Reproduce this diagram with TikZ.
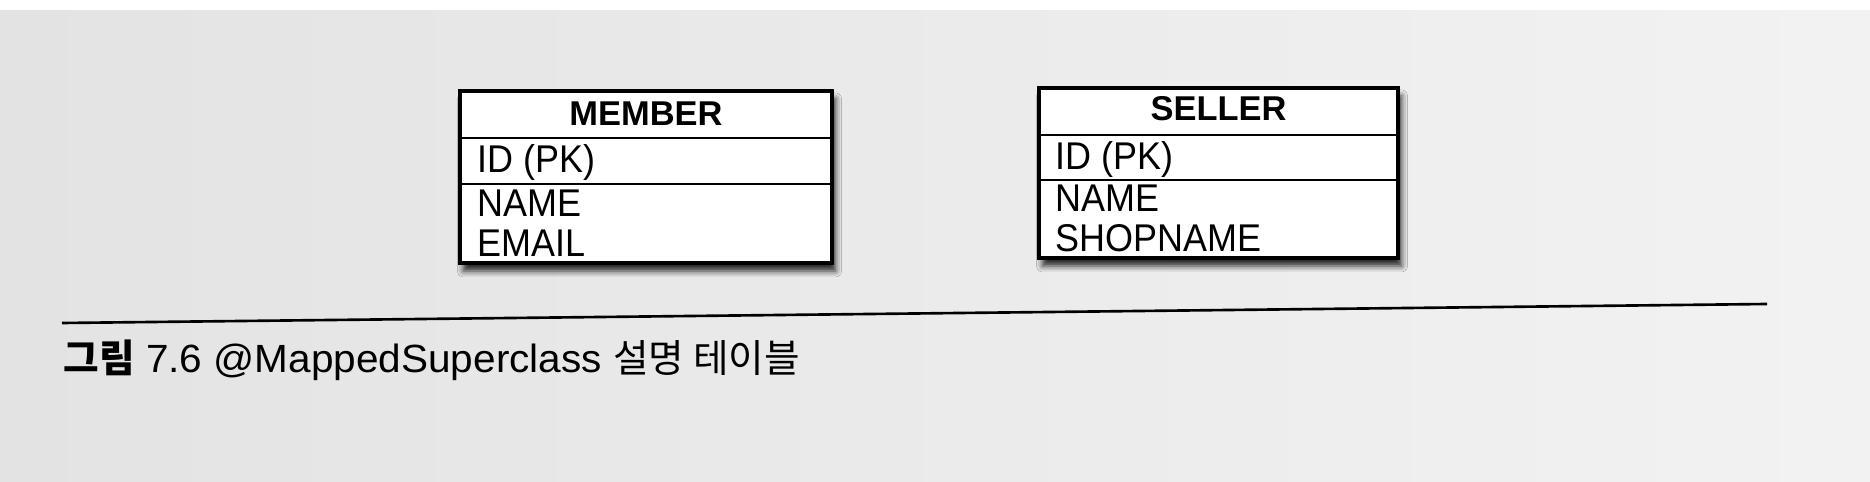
\documentclass[tikz,border=0pt]{standalone}
\usepackage{fontspec}
\setmainfont{Liberation Sans}
\newfontfamily\tabfont[FakeStretch=0.93]{Liberation Sans}
\newfontfamily\capfont[FakeStretch=1.03]{Liberation Sans}
\newfontfamily\krfont{Noto Sans CJK KR}
\usetikzlibrary{shadows.blur}

\tikzset{
	tablebox/.style={draw, line width=0.9pt, fill=white, inner sep=0, outer sep=0, anchor=north west,
		blur shadow={shadow xshift=0.35mm, shadow yshift=-0.8mm, shadow blur radius=0.6mm, shadow opacity=85}},
	rowline/.style={line width=0.8pt},
	headtext/.style={font=\bfseries\fontsize{9.8}{11}\selectfont, inner sep=0, anchor=base},
	fieldtext/.style={font=\tabfont\fontsize{11}{13}\selectfont, inner sep=0, anchor=base west},
}

\begin{document}
\begin{tikzpicture}
	\useasboundingbox (0,0) rectangle (18.70,4.82);
	%page
	\shade[left color=black!11, right color=black!5] (0,0) rectangle (18.70,4.72);
	\fill[white] (0,4.72) rectangle (18.70,4.82);
	
	%member table
	\node[tablebox, minimum width=3.72cm, minimum height=1.72cm] (member) at (4.60,3.91) {};
	\draw[rowline] (4.60,3.44) -- (8.32,3.44);	%header | id
	\draw[rowline] (4.60,2.98) -- (8.32,2.98);	%id | fields
	\node[headtext] (memberhead) at (6.46,3.56) {MEMBER};
	\node[fieldtext] (memberid) at (4.77,3.09) {ID (PK)};
	\node[fieldtext] (membername) at (4.77,2.65) {NAME};
	\node[fieldtext] (memberemail) at (4.77,2.25) {EMAIL};
	
	%seller table
	\node[tablebox, minimum width=3.59cm, minimum height=1.70cm] (seller) at (10.39,3.94) {};
	\draw[rowline] (10.39,3.47) -- (13.98,3.47);	%header | id
	\draw[rowline] (10.39,3.02) -- (13.98,3.02);	%id | fields
	\node[headtext] (sellerhead) at (12.185,3.61) {SELLER};
	\node[fieldtext] (sellerid) at (10.55,3.12) {ID (PK)};
	\node[fieldtext] (sellername) at (10.55,2.70) {NAME};
	\node[fieldtext] (sellershop) at (10.55,2.30) {SHOPNAME};
	
	%caption
	\coordinate (ruleL) at (0.62,1.59);
	\coordinate (ruleR) at (17.67,1.78);
	\draw[line width=0.75pt] (ruleL) -- (ruleR);
	\node[inner sep=0, anchor=base west, font=\capfont\fontsize{11.2}{13}\selectfont] (caption) at (0.63,1.09)
		{{\krfont\bfseries\fontsize{11}{13}\selectfont 그림} 7.6 @MappedSuperclass {\krfont\fontsize{11}{13}\selectfont 설명 테이블}};
\end{tikzpicture}
\end{document}
